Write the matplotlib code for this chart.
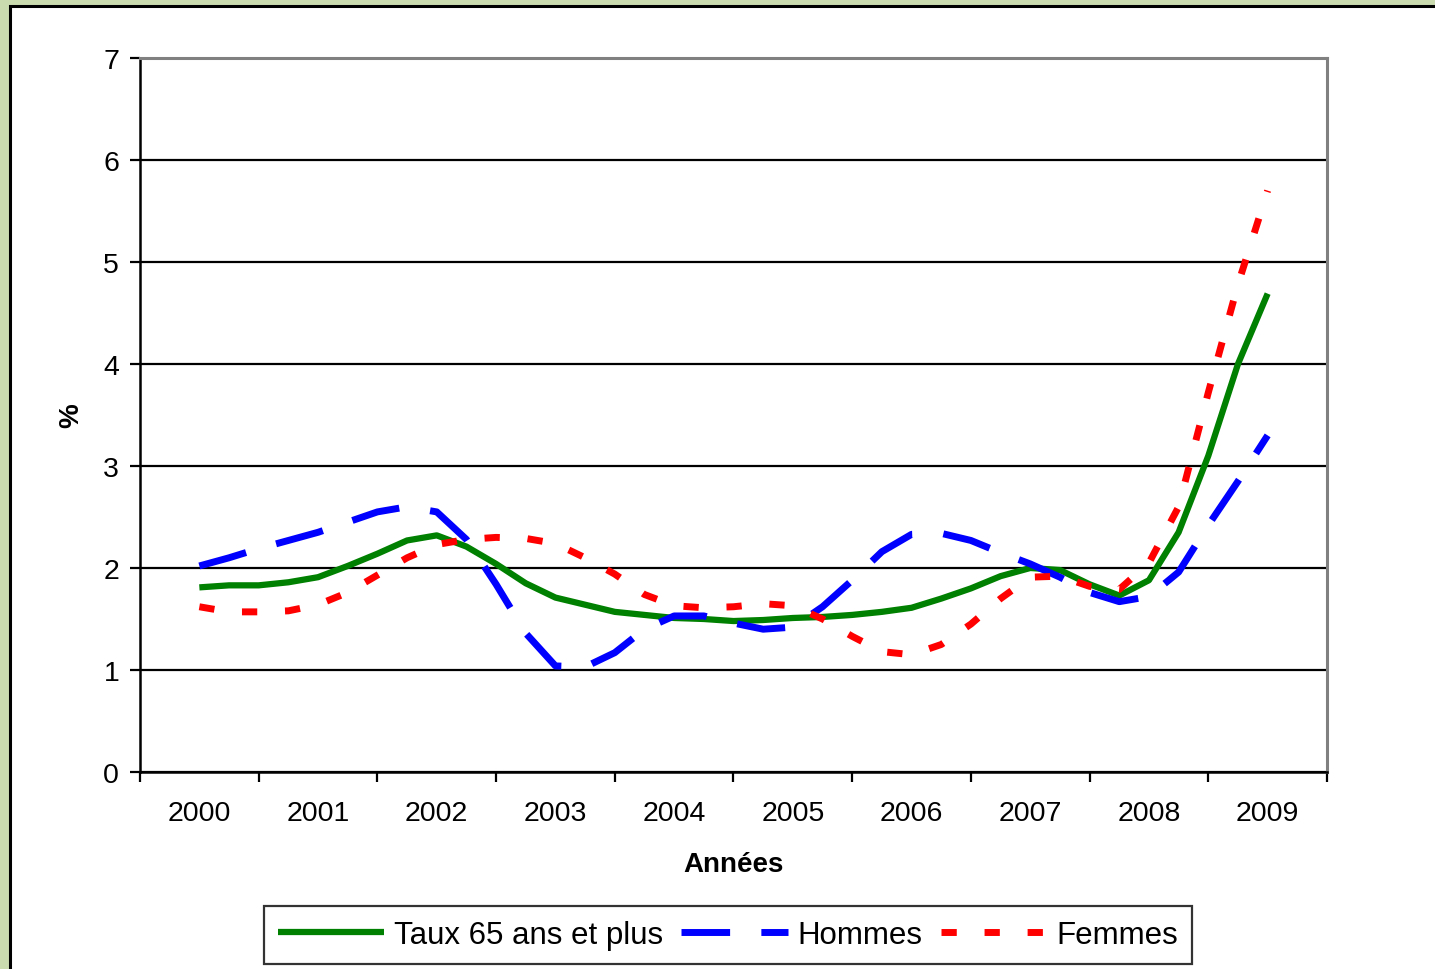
#!/usr/bin/env python

# Taux 65 ans et plus, Hommes / Femmes, 2000-2009 (trimestriel).

import matplotlib
matplotlib.use("Agg")
import matplotlib.pyplot as plt
import numpy as np
from matplotlib.patches import Rectangle

plt.rcParams["font.family"] = ["Liberation Sans", "DejaVu Sans"]

years = [2000, 2001, 2002, 2003, 2004, 2005, 2006, 2007, 2008, 2009]
quarters_per_year = 4

taux = [1.81, 1.83, 1.83, 1.86, 1.91, 2.02, 2.14, 2.27, 2.32, 2.21,
        2.04, 1.85, 1.71, 1.64, 1.57, 1.54, 1.51, 1.50, 1.48, 1.49,
        1.51, 1.52, 1.54, 1.57, 1.61, 1.70, 1.80, 1.92, 2.00, 1.98,
        1.84, 1.73, 1.88, 2.35, 3.10, 4.00, 4.69]
hommes = [2.02, 2.10, 2.19, 2.27, 2.35, 2.45, 2.55, 2.60, 2.55, 2.28,
          1.84, 1.36, 1.04, 1.03, 1.17, 1.40, 1.53, 1.53, 1.46, 1.40,
          1.42, 1.62, 1.88, 2.16, 2.33, 2.34, 2.27, 2.15, 2.04, 1.91,
          1.76, 1.67, 1.72, 1.96, 2.42, 2.85, 3.30]
femmes = [1.62, 1.57, 1.57, 1.58, 1.64, 1.76, 1.93, 2.10, 2.23, 2.28,
          2.30, 2.29, 2.24, 2.10, 1.94, 1.74, 1.63, 1.61, 1.62, 1.65,
          1.63, 1.50, 1.33, 1.18, 1.15, 1.25, 1.45, 1.70, 1.91, 1.92,
          1.82, 1.79, 2.05, 2.60, 3.72, 4.78, 5.70]

W, H = 1435, 970
fig = plt.figure(figsize=(W / 100, H / 100), dpi=100)
fig.patch.set_facecolor("#cadbb0")

# white panel with black border, behind the axes
fig.patches.append(Rectangle((10 / W, -0.1), 1.2, 1 - 7 / H + 0.1,
                             transform=fig.transFigure, facecolor="white",
                             edgecolor="black", linewidth=2.2, zorder=-5))

ax = fig.add_axes([140 / W, 1 - 773 / H, (1327 - 140) / W, (773 - 59) / H])
ax.set_facecolor("white")

x = years[0] + np.arange(len(taux)) / quarters_per_year

ax.plot(x, taux, color="#008000", lw=4.5, solid_capstyle="butt",
        solid_joinstyle="round", label="Taux 65 ans et plus", zorder=3)
ax.plot(x, hommes, color="#0000ff", lw=5.0, dashes=(7, 4.5),
        dash_capstyle="butt", dash_joinstyle="round", label="Hommes", zorder=4)
ax.plot(x, femmes, color="#ff0000", lw=5.0, dashes=(2.2, 4.0),
        dash_capstyle="butt", dash_joinstyle="round", label="Femmes", zorder=5)

ax.set_xlim(years[0] - 0.5, years[-1] + 0.5)
ax.set_ylim(0, 7)
ax.set_yticks(range(8))
ax.yaxis.grid(True, color="black", lw=1.6)
ax.set_axisbelow(True)

ax.set_xticks(np.arange(years[0] - 0.5, years[-1] + 1, 1))
ax.set_xticklabels([])
ax.set_xticks(years, minor=True)
ax.set_xticklabels([str(y) for y in years], minor=True, fontsize=20.5)
ax.tick_params(axis="x", which="major", length=7, width=1.6, direction="out")
ax.tick_params(axis="x", which="minor", length=0, pad=20)
ax.tick_params(axis="y", length=7, width=1.6, direction="out", labelsize=20.5, pad=8)

for side in ("left", "bottom"):
    ax.spines[side].set_color("black")
    ax.spines[side].set_linewidth(1.8)
for side in ("top", "right"):
    ax.spines[side].set_color("#808080")
    ax.spines[side].set_linewidth(2.2)

ax.set_xlabel("Années", fontsize=20, fontweight="bold", labelpad=18)
ax.set_ylabel("%", fontsize=20, fontweight="bold", labelpad=14)

leg = fig.legend(loc="center", bbox_to_anchor=(728 / W, 1 - 936 / H),
                 ncol=3, fontsize=22.5, frameon=True, fancybox=False,
                 handlelength=3.4, handletextpad=0.3, columnspacing=0.6,
                 borderpad=0.45, borderaxespad=0)
leg.get_frame().set_edgecolor("black")
leg.get_frame().set_linewidth(1.6)

fig.savefig("out.png", dpi=100, facecolor=fig.get_facecolor())
